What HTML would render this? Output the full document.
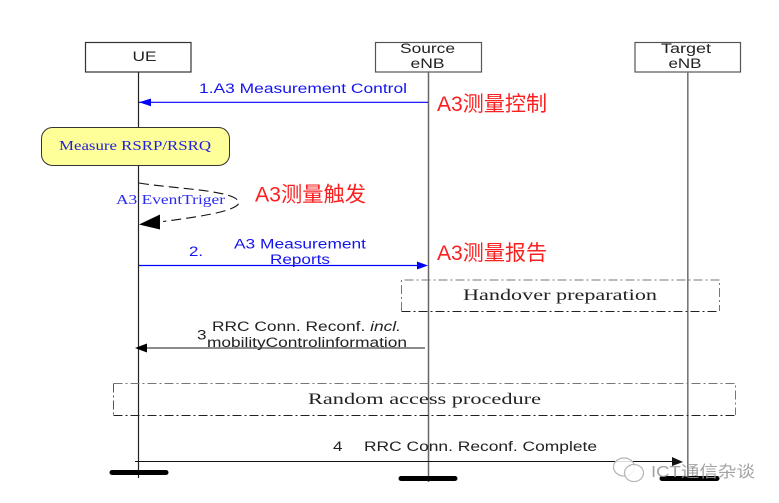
<!DOCTYPE html>
<html><head><meta charset="utf-8"><style>
html,body{margin:0;padding:0;background:#fff}
svg{display:block}
text{font-family:"Liberation Sans",sans-serif}
.s{font-family:"Liberation Serif",serif}
.cn{font-family:"Liberation Sans","Noto Sans CJK SC",sans-serif;fill:#fb2020;font-size:21px}
</style></head><body>
<svg width="779" height="503" viewBox="0 0 779 503" xmlns="http://www.w3.org/2000/svg">
<rect width="779" height="503" fill="#fff"/>
<g stroke="#333" stroke-width="1.2" fill="#fff">
<rect x="85.5" y="42.5" width="105.5" height="29.5"/>
<rect x="375.5" y="42.5" width="106" height="29.5" stroke="#555"/>
<rect x="635" y="42.5" width="105.5" height="29.5" stroke="#555"/>
</g>
<line x1="138.5" y1="72" x2="138.5" y2="478" stroke="#222" stroke-width="1.2"/>
<line x1="428.5" y1="72" x2="428.5" y2="482" stroke="#666" stroke-width="1.5"/>
<line x1="687.8" y1="72" x2="687.8" y2="480" stroke="#777" stroke-width="1.6"/>
<g fill="none" stroke-width="1" stroke-dasharray="9 3 2 3">
<path d="M401.5 311V280H719.5V311" stroke="#777"/>
<path d="M401.5 311.5H719.5" stroke="#222"/>
<path d="M113.5 383.5V415" stroke="#555"/>
<path d="M113.5 383.5H735.5V415" stroke="#777"/>
<path d="M113.5 415.5H735.5" stroke="#222"/>
</g>
<rect x="41.5" y="127.5" width="188" height="38" rx="11" fill="#ffff99" stroke="#333" stroke-width="1"/>
<text class="s" x="59" y="150" font-size="13.5" fill="#2222dd" textLength="152" lengthAdjust="spacingAndGlyphs">Measure RSRP/RSRQ</text>
<line x1="139" y1="102.3" x2="428" y2="102.3" stroke="#0000ff" stroke-width="1.2"/>
<path d="M139 102.3L151 98.5V106.2Z" fill="#0000ff"/>
<text x="199" y="93" font-size="13.5" fill="#1414f0" textLength="208" lengthAdjust="spacingAndGlyphs">1.A3 Measurement Control</text>
<path d="M139 183C175 189 238 190 239 203C236 212 190 218 163 221.5" fill="none" stroke="#111" stroke-width="1.1" stroke-dasharray="10 5"/>
<path d="M139 224.5L160 214.5V229.5Z" fill="#000"/>
<text class="s" x="116" y="204" font-size="13.5" fill="#2a2af0" textLength="109" lengthAdjust="spacingAndGlyphs">A3 EventTriger</text>
<line x1="139" y1="265.5" x2="418" y2="265.5" stroke="#0000ff" stroke-width="1.2"/>
<path d="M428 265.5L417 261.5V269.5Z" fill="#0000ff"/>
<text x="189" y="256" font-size="13.5" fill="#1414f0" textLength="14" lengthAdjust="spacingAndGlyphs">2.</text>
<text x="234" y="248.5" font-size="13.5" fill="#1414f0" textLength="132" lengthAdjust="spacingAndGlyphs">A3 Measurement</text>
<text x="270" y="264" font-size="13.5" fill="#1414f0" textLength="60" lengthAdjust="spacingAndGlyphs">Reports</text>
<text class="cn" x="437" y="111" textLength="110" lengthAdjust="spacingAndGlyphs">A3测量控制</text>
<text class="cn" x="255" y="201.5" textLength="111" lengthAdjust="spacingAndGlyphs">A3测量触发</text>
<text class="cn" x="437" y="260" textLength="110" lengthAdjust="spacingAndGlyphs">A3测量报告</text>
<text x="132.5" y="61" font-size="14" fill="#222" textLength="24" lengthAdjust="spacingAndGlyphs">UE</text>
<text x="400" y="53" font-size="13.5" fill="#222" textLength="55" lengthAdjust="spacingAndGlyphs">Source</text>
<text x="410.5" y="68" font-size="13.5" fill="#222" textLength="34" lengthAdjust="spacingAndGlyphs">eNB</text>
<text x="661" y="53" font-size="13.5" fill="#222" textLength="50" lengthAdjust="spacingAndGlyphs">Target</text>
<text x="668.5" y="68" font-size="13.5" fill="#222" textLength="33" lengthAdjust="spacingAndGlyphs">eNB</text>
<text class="s" x="463" y="300" font-size="16" fill="#222" textLength="194" lengthAdjust="spacingAndGlyphs">Handover preparation</text>
<text class="s" x="308" y="404" font-size="16" fill="#222" textLength="233" lengthAdjust="spacingAndGlyphs">Random access procedure</text>
<line x1="137" y1="348" x2="425" y2="348" stroke="#666" stroke-width="1.5"/>
<path d="M135 348L147 343.5V352.5Z" fill="#000"/>
<text x="197" y="339.5" font-size="13.5" fill="#222" textLength="9.5" lengthAdjust="spacingAndGlyphs">3</text>
<text x="212" y="331" font-size="13.5" fill="#222" textLength="189" lengthAdjust="spacingAndGlyphs">RRC Conn. Reconf. <tspan font-style="italic">incl.</tspan></text>
<text x="207" y="347" font-size="13.5" fill="#222" textLength="200" lengthAdjust="spacingAndGlyphs">mobilityControlinformation</text>
<line x1="135" y1="461.5" x2="676" y2="461.5" stroke="#111" stroke-width="1.1"/>
<path d="M683 462L672 457V466Z" fill="#111"/>
<text x="333" y="451" font-size="13.5" fill="#222" textLength="9.5" lengthAdjust="spacingAndGlyphs">4</text>
<text x="364" y="451" font-size="13.5" fill="#222" textLength="233" lengthAdjust="spacingAndGlyphs">RRC Conn. Reconf. Complete</text>
<line x1="112" y1="472.5" x2="166" y2="472.5" stroke="#000" stroke-width="5" stroke-linecap="round"/>
<line x1="401" y1="478.5" x2="455" y2="478.5" stroke="#000" stroke-width="5" stroke-linecap="round"/>
<line x1="662" y1="478.5" x2="717" y2="478.5" stroke="#000" stroke-width="5" stroke-linecap="round"/>
<g fill="#fff" fill-opacity=".85" stroke="#b5b5b5" stroke-width="1.2">
<ellipse cx="624" cy="467" rx="10.5" ry="9"/>
<ellipse cx="634" cy="473" rx="9.5" ry="8.5"/>
</g>
<text x="651" y="477" font-size="16" fill="#999" fill-opacity=".9" style='font-family:"Liberation Sans","Noto Sans CJK SC",sans-serif' textLength="104" lengthAdjust="spacingAndGlyphs">ICT通信杂谈</text>
</svg>
</body></html>
